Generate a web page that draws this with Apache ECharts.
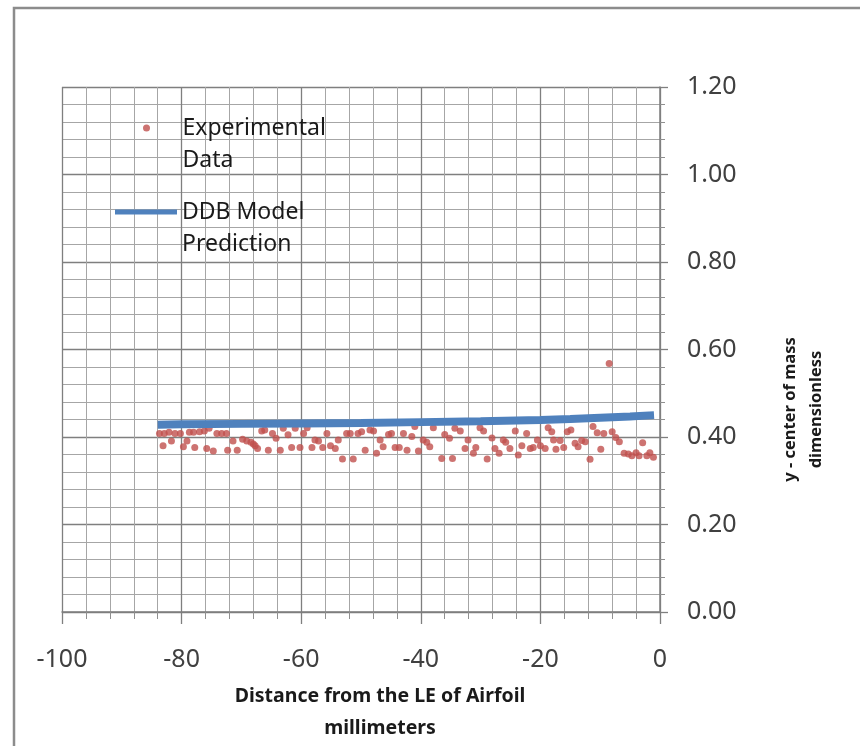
<!DOCTYPE html>
<html>
<head>
<meta charset="utf-8">
<script src="https://cdn.jsdelivr.net/npm/echarts@6/dist/echarts.min.js"></script>
<style>
html,body{margin:0;padding:0;background:#fff;}
#chart{width:860px;height:746px;}
</style>
</head>
<body>
<div id="chart"></div>
<script>
// Experimental data (distance mm, y-center of mass)
var expX = [-83.7,-83.1,-82.9,-82.1,-81.7,-81.1,-80.2,-79.7,-79.1,-78.7,-78.0,-77.8,-77.0,-76.2,-75.8,-75.4,-74.7,-74.1,-73.3,-72.5,-72.3,-71.4,-70.7,-69.8,-69.1,-68.4,-68.0,-67.7,-67.3,-66.6,-66.1,-65.5,-64.8,-64.2,-63.5,-63.0,-62.2,-61.6,-61.0,-60.2,-59.6,-59.0,-58.2,-57.7,-57.1,-56.4,-55.7,-55.1,-54.3,-53.8,-53.1,-52.4,-51.8,-51.3,-50.5,-49.9,-49.3,-48.5,-47.9,-47.4,-46.8,-46.3,-45.4,-44.9,-44.3,-43.6,-42.9,-42.3,-41.5,-41.0,-40.4,-39.6,-39.0,-38.5,-37.9,-36.5,-36.0,-35.2,-34.7,-34.3,-33.4,-32.6,-32.1,-31.2,-30.8,-30.1,-29.5,-28.9,-28.1,-27.6,-26.9,-26.2,-25.8,-25.1,-24.2,-23.7,-23.1,-22.3,-21.7,-21.2,-20.5,-20.0,-19.2,-18.7,-18.1,-17.8,-17.4,-16.7,-16.1,-15.5,-14.9,-14.2,-13.7,-13.1,-12.5,-11.7,-11.2,-10.5,-9.9,-9.4,-8.5,-8.0,-7.4,-6.8,-6.0,-5.3,-4.7,-4.0,-3.5,-2.9,-2.2,-1.7,-1.1];
var expY = [0.408,0.380,0.408,0.411,0.391,0.408,0.408,0.378,0.391,0.411,0.411,0.376,0.412,0.414,0.374,0.420,0.368,0.408,0.408,0.408,0.370,0.391,0.370,0.395,0.391,0.388,0.384,0.380,0.374,0.414,0.416,0.370,0.408,0.397,0.370,0.420,0.405,0.376,0.420,0.376,0.408,0.421,0.376,0.393,0.391,0.376,0.408,0.380,0.374,0.393,0.350,0.408,0.408,0.350,0.408,0.412,0.370,0.416,0.414,0.363,0.393,0.378,0.406,0.408,0.376,0.376,0.408,0.370,0.401,0.424,0.368,0.393,0.388,0.378,0.421,0.351,0.406,0.397,0.351,0.420,0.414,0.374,0.393,0.363,0.376,0.421,0.414,0.350,0.398,0.374,0.363,0.393,0.388,0.374,0.414,0.359,0.380,0.408,0.374,0.376,0.393,0.380,0.374,0.421,0.412,0.393,0.372,0.392,0.376,0.412,0.416,0.386,0.378,0.392,0.389,0.349,0.424,0.410,0.372,0.408,0.568,0.412,0.399,0.389,0.363,0.361,0.357,0.364,0.357,0.387,0.357,0.364,0.354];

// DDB model prediction
var modelX = [-84,-80,-70,-60,-50,-40,-30,-20,-15,-10,-5,-1];
var modelY = [0.428,0.429,0.430,0.431,0.432,0.434,0.436,0.439,0.441,0.444,0.447,0.450];

var seriesNames = ['Experimental\nData', 'DDB Model\nPrediction'];
var xTitle = 'Distance from the LE of Airfoil\nmillimeters';
var yTitle = 'y - center of mass\ndimensionless';

var expData = expX.map(function(x,i){return [x, expY[i]];});
var modelData = modelX.map(function(x,i){return [x, modelY[i]];});

var FONT = '"Noto Sans", "Open Sans", sans-serif';
var legendText = {fontFamily: FONT, fontSize: 23, color: '#1a1a1a', lineHeight: 32};
var chart = echarts.init(document.getElementById('chart'), null, {renderer:'canvas'});
chart.setOption({
  animation: false,
  backgroundColor: '#ffffff',
  graphic: [{
    type: 'rect', silent: true, z: -10,
    shape: {x: 14, y: 8, width: 900, height: 800},
    style: {fill: 'none', stroke: '#8c8c8c', lineWidth: 2.5}
  }],
  grid: {left: 62, right: 200, top: 87, bottom: 134, containLabel: false, outerBoundsMode: 'none'},
  legend: [{
    data: [{name: seriesNames[0], icon: 'circle'}],
    left: 143, top: 80, padding: 0,
    itemWidth: 62, itemHeight: 7, itemGap: 0,
    formatter: function(n){return '\n' + n;},
    textStyle: legendText
  },{
    data: [{name: seriesNames[1], icon: 'rect'}],
    left: 115, top: 164, padding: 0,
    itemWidth: 62, itemHeight: 5, itemGap: 0,
    formatter: function(n){return '\n' + n;},
    textStyle: legendText
  }],
  xAxis: {
    type: 'value', min: -100, max: 0, interval: 20,
    position: 'bottom',
    axisLine: {show: true, onZero: false, lineStyle: {color: '#7f7f7f', width: 1.5}},
    axisTick: {show: true, inside: false, length: 12, lineStyle: {color: '#7f7f7f', width: 1.3}},
    minorTick: {show: true, splitNumber: 5, length: 7, lineStyle: {color: '#8f8f8f', width: 1}},
    splitLine: {show: true, lineStyle: {color: '#7f7f7f', width: 1.3}},
    minorSplitLine: {show: true, lineStyle: {color: '#a6a6a6', width: 1}},
    axisLabel: {fontFamily: FONT, fontSize: 25, color: '#404040', margin: 35},
    name: xTitle, nameLocation: 'middle', nameGap: 68,
    nameTextStyle: {fontFamily: FONT, fontSize: 19.5, fontWeight: 'bold', color: '#1a1a1a', lineHeight: 32, padding: [0,0,0,38]}
  },
  yAxis: {
    type: 'value', min: 0, max: 1.2, interval: 0.2,
    position: 'right',
    axisLine: {show: true, onZero: false, lineStyle: {color: '#7f7f7f', width: 1.5}},
    axisTick: {show: true, inside: false, length: 8, lineStyle: {color: '#7f7f7f', width: 1.3}},
    minorTick: {show: true, splitNumber: 5, length: 5, lineStyle: {color: '#8f8f8f', width: 1}},
    splitLine: {show: true, lineStyle: {color: '#7f7f7f', width: 1.3}},
    minorSplitLine: {show: true, lineStyle: {color: '#a6a6a6', width: 1}},
    axisLabel: {fontFamily: FONT, fontSize: 25, color: '#404040', margin: 27,
      formatter: function(v){return v.toFixed(2);}},
    name: yTitle, nameLocation: 'middle', nameGap: 117, nameRotate: 90,
    nameTextStyle: {fontFamily: FONT, fontSize: 16.5, fontWeight: 'bold', color: '#1a1a1a', lineHeight: 26, padding: [0,120,0,0]}
  },
  series: [{
    name: seriesNames[0], type: 'scatter', data: expData,
    symbol: 'circle', symbolSize: 7,
    itemStyle: {color: '#C0504D'}, z: 2
  },{
    name: seriesNames[1], type: 'line', data: modelData,
    symbol: 'none', showSymbol: false,
    lineStyle: {color: '#4F81BD', width: 8}, itemStyle: {color: '#4F81BD'}, z: 3
  }]
});
</script>
</body>
</html>
